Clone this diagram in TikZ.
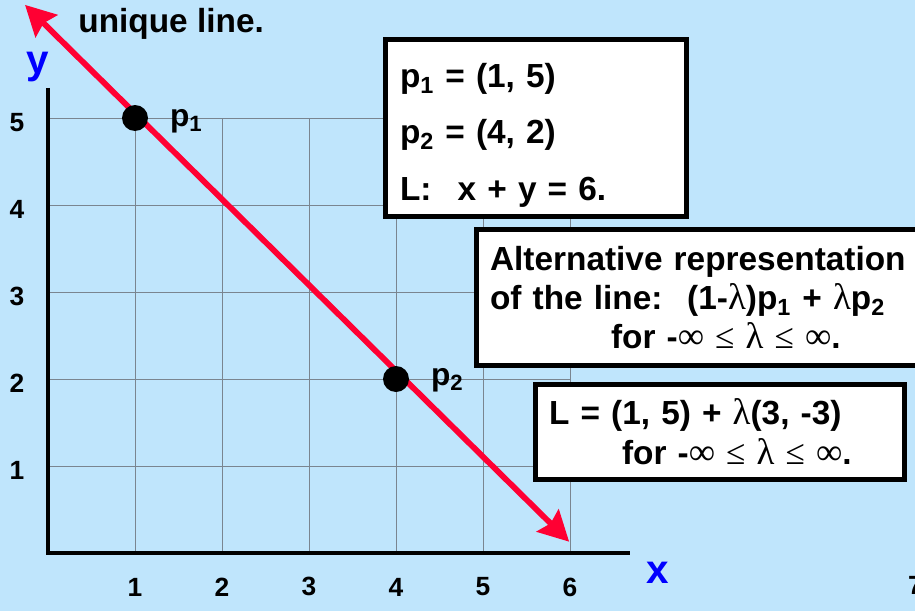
\documentclass[tikz,border=0pt]{standalone}
\usepackage{fontspec}
\setmainfont{Liberation Sans}
\newfontfamily\symf{Liberation Serif}
\usepackage{xcolor}
\usetikzlibrary{positioning,arrows.meta}
\definecolor{skyback}{HTML}{BFE5FC}
\definecolor{linered}{HTML}{FF0033}
\definecolor{axblue}{HTML}{0000FF}
\definecolor{gridgray}{HTML}{7A8590}
\newcommand{\lmb}{{\symf\mdseries\fontsize{21}{22}\selectfont λ}}
\newcommand{\inft}{{\symf\mdseries\fontsize{21}{22}\selectfont ∞}}
\newcommand{\lesym}{{\symf\mdseries\fontsize{20}{22}\selectfont ≤}}

\begin{document}
\begin{tikzpicture}[
      x=1.74cm, y=1.74cm,
      font=\bfseries,
      tick/.style={font=\fontsize{15}{17}\selectfont\bfseries, inner sep=0pt},
      axlbl/.style={text=axblue, font=\fontsize{23}{26}\selectfont\bfseries, inner sep=0pt},
      ptlbl/.style={font=\fontsize{18}{20}\selectfont\bfseries, anchor=base west, inner sep=0pt},
      dot/.style={circle, fill=black, minimum size=0.52cm, inner sep=0pt},
      redline/.style={linered, line width=3.3pt,
                      {Stealth[length=0.6cm, width=0.62cm, inset=0.08cm]}-{Stealth[length=0.6cm, width=0.62cm, inset=0.08cm]}},
      infobox/.style={draw=black, line width=2.85pt, fill=white, align=left, anchor=north west,
                      inner xsep=0.27cm, inner ysep=0pt}]
    \path[use as bounding box, fill=skyback] (-0.5517,-0.6667) rectangle (9.9655,6.3563);
    \draw[gridgray, line width=0.55pt, step=1] (0,0) grid (6,5);
    \draw[black, line width=0.08cm] (0,5.345) -- (0,0) -- (6.69,0);
    \foreach \i in {1,...,6}
      \node[tick] (xt\i) at (\i,-0.39) {\i};
    \node[tick] (xt7) at (9.97,-0.37) {7};
    \foreach \i in {1,...,5}
      \node[tick] (yt\i) at (-0.356,\i-0.05) {\i};
    \node[axlbl] (ylbl) at (-0.115,5.586) {y};
    \node[axlbl] (xlbl) at (7.01,-0.23) {x};
    \node[font=\fontsize{19}{22}\selectfont\bfseries, anchor=base west, inner sep=0pt]
      (title) at (0.345,5.977) {unique line.};
    \coordinate (lnA) at (-0.264,6.30);
    \coordinate (lnB) at (5.99,0.13);
    \draw[redline] (lnA) -- (lnB);
    \node[dot] (p1) at (1,5) {};
    \node[dot] (p2) at (4,2) {};
    \node[ptlbl] (p1lbl) at (1.40,4.90) {p\textsubscript{1}};
    \node[ptlbl] (p2lbl) at (4.40,1.93) {p\textsubscript{2}};
    \node[infobox, text width=5.44cm, minimum height=3.54cm, inner xsep=0.29cm,
          font=\fontsize{19}{32.1}\selectfont\bfseries] (given) at (3.851,5.931)
      {\rule{0pt}{0.77cm}p\textsubscript{1} = (1, 5)\\ p\textsubscript{2} = (4, 2)\\ L:\hspace{0.3cm} x + y = 6.};
    \node[infobox, text width=8.53cm, minimum height=2.72cm,
          font=\fontsize{19}{22.2}\selectfont\bfseries] (alt) at (4.897,3.747)
      {Alternative representation\\ of the line:\hspace{0.16cm} (1-\lmb)p\textsubscript{1} + \lmb p\textsubscript{2}\\
       \hspace*{2.42cm}for -\inft{} \lesym{} \lmb{} \lesym{} \inft.};
    \node[infobox, text width=6.84cm, minimum height=1.9cm,
          font=\fontsize{19}{22.8}\selectfont\bfseries] (param) at (5.575,1.966)
      {L = (1, 5) + \lmb(3, -3)\\ \hspace*{1.46cm}for -\inft{} \lesym{} \lmb{} \lesym{} \inft.};
  \end{tikzpicture}
\end{document}
